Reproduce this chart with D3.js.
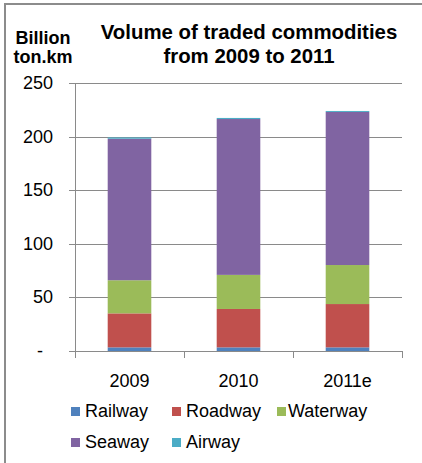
<!DOCTYPE html>
<html>
<head>
<meta charset="utf-8">
<script src="https://cdn.jsdelivr.net/npm/d3@7"></script>
<style>
  body { margin: 0; background: #fff; }
  text { font-family: "Liberation Sans", Arial, sans-serif; fill: #000; }
</style>
</head>
<body>
<div id="chart"></div>
<script>
const years = ["2009", "2010", "2011e"];
const modes = ["Railway", "Roadway", "Waterway", "Seaway", "Airway"];
const railway  = [3.4, 3.4, 3.4];
const roadway  = [31.7, 35.8, 40.4];
const waterway = [30.9, 31.8, 36.4];
const seaway   = [132.0, 145.4, 142.8];
const airway   = [1.2, 1.0, 0.9];
const yTicks = [0, 50, 100, 150, 200, 250];
const colors = ["#4F81BD", "#C0504D", "#9BBB59", "#8064A2", "#4BACC6"];

const series = [railway, roadway, waterway, seaway, airway];
const table = years.map((y, i) => {
  const row = {year: y};
  modes.forEach((m, j) => row[m] = series[j][i]);
  return row;
});

const W = 422, H = 463;
const margin = {top: 83, right: 20, bottom: 112, left: 75};
const width = 402 - margin.left;
const height = 351 - margin.top;

const root = d3.select("#chart").append("svg")
  .attr("width", W).attr("height", H);

// outer frame
root.append("path")
  .attr("d", `M5,${H} L5,4 L${W},4`)
  .attr("fill", "none")
  .attr("stroke", "#8c8c8c")
  .attr("stroke-width", 2);

root.append("text")
  .attr("x", 249).attr("y", 39)
  .attr("text-anchor", "middle")
  .style("font-weight", "bold").style("font-size", "20.4px")
  .text("Volume of traded commodities");
root.append("text")
  .attr("x", 249).attr("y", 63)
  .attr("text-anchor", "middle")
  .style("font-weight", "bold").style("font-size", "20.4px")
  .text("from 2009 to 2011");

root.append("text")
  .attr("x", 43).attr("y", 44)
  .attr("text-anchor", "middle")
  .style("font-weight", "bold").style("font-size", "18px")
  .text("Billion");
root.append("text")
  .attr("x", 43).attr("y", 63)
  .attr("text-anchor", "middle")
  .style("font-weight", "bold").style("font-size", "18px")
  .text("ton.km");

const svg = root.append("g")
  .attr("transform", `translate(${margin.left},${margin.top})`);

const x = d3.scaleBand().domain(years).range([0, width]).paddingInner(0.6).paddingOuter(0.3);
const y = d3.scaleLinear().domain([0, 250]).range([height, 0]);

// gridlines + y labels
svg.selectAll("line.grid")
  .data(yTicks)
  .enter().append("line")
  .attr("x1", -6).attr("x2", width)
  .attr("y1", d => Math.round(y(d)) + 0.5)
  .attr("y2", d => Math.round(y(d)) + 0.5)
  .attr("stroke", "#8a8a8a");

svg.selectAll("text.ylab")
  .data(yTicks)
  .enter().append("text")
  .attr("x", d => d === 0 ? -35 : -22)
  .attr("y", d => y(d) + 6)
  .attr("text-anchor", d => d === 0 ? "middle" : "end")
  .style("font-size", "18px")
  .text(d => d === 0 ? "-" : d);

// y axis line
svg.append("line")
  .attr("x1", 0.5).attr("x2", 0.5)
  .attr("y1", 0).attr("y2", height + 6)
  .attr("stroke", "#8a8a8a");

// x category ticks
const step = width / years.length;
svg.selectAll("line.xtick")
  .data(d3.range(years.length + 1))
  .enter().append("line")
  .attr("x1", d => Math.round(d * step) + 0.5)
  .attr("x2", d => Math.round(d * step) + 0.5)
  .attr("y1", height).attr("y2", height + 7)
  .attr("stroke", "#8a8a8a");

// stacked bars
const stack = d3.stack().keys(modes)(table);
svg.selectAll("g.layer")
  .data(stack)
  .enter().append("g")
  .attr("fill", (d, i) => colors[i])
  .selectAll("rect")
  .data(d => d)
  .enter().append("rect")
  .attr("x", d => x(d.data.year))
  .attr("width", x.bandwidth())
  .attr("y", d => y(d[1]))
  .attr("height", d => y(d[0]) - y(d[1]));

// x labels
svg.selectAll("text.xlab")
  .data(years)
  .enter().append("text")
  .attr("x", d => x(d) + x.bandwidth() / 2)
  .attr("y", height + 36)
  .attr("text-anchor", "middle")
  .style("font-size", "18px")
  .text(d => d);

// legend
const legendPos = [[71, 0], [172, 0], [277, 0], [71, 1], [172, 1]];
const leg = root.selectAll("g.leg")
  .data(modes)
  .enter().append("g")
  .attr("transform", (d, i) => `translate(${legendPos[i][0]},${417 + legendPos[i][1] * 31})`);
leg.append("rect")
  .attr("x", 0).attr("y", -10)
  .attr("width", 9).attr("height", 9)
  .attr("fill", (d, i) => colors[i]);
leg.append("text")
  .attr("x", (d, i) => i === 2 ? 11 : 14)
  .attr("y", 0)
  .style("font-size", "18px")
  .text(d => d);
</script>
</body>
</html>
